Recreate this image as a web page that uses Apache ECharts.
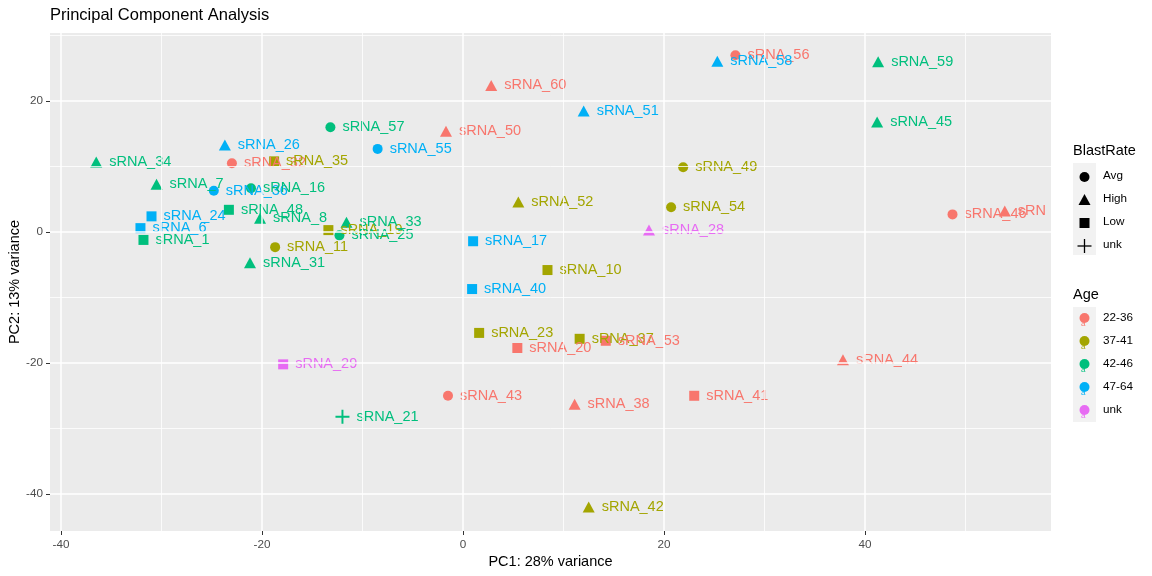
<!DOCTYPE html>
<html>
<head>
<meta charset="utf-8">
<script src="https://cdn.jsdelivr.net/npm/echarts@6/dist/echarts.min.js"></script>
<style>html,body{margin:0;padding:0;background:#fff}#c{width:1152px;height:576px}</style>
</head>
<body>
<div id="c"></div>
<script>
const sampleNames = ['sRNA_56','sRNA_58','sRNA_59','sRNA_60','sRNA_51','sRNA_45','sRNA_57','sRNA_50','sRNA_26','sRNA_55',
  'sRNA_32','sRNA_35','sRNA_34','sRNA_49','sRNA_7','sRNA_36','sRNA_16','sRNA_48','sRNA_8','sRNA_24',
  'sRNA_6','sRNA_1','sRNA_11','sRNA_31','sRNA_19','sRNA_33','sRNA_25','sRNA_52','sRNA_54','sRNA_17',
  'sRNA_28','sRNA_46','sRNA_47','sRNA_10','sRNA_40','sRNA_29','sRNA_21','sRNA_23','sRNA_20','sRNA_37',
  'sRNA_53','sRNA_43','sRNA_38','sRNA_41','sRNA_44','sRNA_42'];
const pc1 = [27.1,25.3,41.3,2.8,12.0,41.2,-13.2,-1.7,-23.7,-8.5,
  -23.0,-18.8,-36.5,21.9,-30.5,-24.8,-21.1,-23.3,-20.2,-31.0,
  -32.1,-31.8,-18.7,-21.2,-13.4,-11.6,-12.3,5.5,20.7,1.0,
  18.5,48.7,53.9,8.4,0.9,-17.9,-12.0,1.6,5.4,11.6,
  14.2,-1.5,11.1,23.0,37.8,12.5];
const pc2 = [27.0,26.1,26.0,22.4,18.5,16.8,16.0,15.4,13.3,12.7,
  10.5,10.8,10.7,9.9,7.3,6.3,6.7,3.4,2.1,2.4,
  0.6,-1.2,-2.3,-4.7,0.3,1.5,-0.5,4.6,3.8,-1.4,
  0.3,2.7,3.2,-5.8,-8.7,-20.2,-28.2,-15.4,-17.7,-16.3,
  -16.6,-25.0,-26.3,-25.0,-19.5,-42.0];
const blastRate = ['Avg','High','High','High','High','High','Avg','High','High','Avg',
  'Avg','Low','High','Avg','High','Avg','Avg','Low','High','Low',
  'Low','Low','Avg','High','Low','High','Avg','High','Avg','Low',
  'High','Avg','High','Low','Low','Low','unk','Low','Low','Low',
  'Low','Avg','High','Low','High','High'];
const age = ['22-36','47-64','42-46','22-36','47-64','42-46','42-46','22-36','47-64','47-64',
  '22-36','37-41','42-46','37-41','42-46','47-64','42-46','42-46','42-46','47-64',
  '47-64','42-46','37-41','42-46','37-41','42-46','42-46','37-41','37-41','47-64',
  'unk','22-36','22-36','37-41','47-64','unk','42-46','37-41','22-36','37-41',
  '22-36','22-36','22-36','22-36','22-36','37-41'];

const blastLevels = ['Avg','High','Low','unk'];
const ageLevels = ['22-36','37-41','42-46','47-64','unk'];
const majorTicksX = [-40,-20,0,20,40];
const minorTicksX = [-30,-10,10,30,50];
const majorTicksY = [-40,-20,0,20];
const minorTicksY = [-30,-10,10,30];

const ageColors = {'22-36':'#F8766D','37-41':'#A3A500','42-46':'#00BF7D','47-64':'#00B0F6','unk':'#E76BF3'};
const plusPath = 'path://M4.3,0H5.7V4.3H10V5.7H5.7V10H4.3V5.7H0V4.3H4.3Z';
const shapeSym = {'Avg':'circle','High':'triangle','Low':'rect','unk':plusPath};
const shapeSize = {'Avg':10,'High':[12,11],'Low':[10,10],'unk':14};

const FONT = 'Liberation Sans, Arial, sans-serif';
const X_MIN = -41.1, X_MAX = 58.5, Y_MIN = -45.65, Y_MAX = 30.4;

function buildData(widths) {
  return sampleNames.map((n, i) => {
    const col = ageColors[age[i]];
    const lbl = {color: col};
    if (widths && widths[i] != null) {
      lbl.width = widths[i]; lbl.overflow = 'truncate'; lbl.ellipsis = '';
    }
    return {
      name: n,
      value: [pc1[i], pc2[i]],
      symbol: shapeSym[blastRate[i]],
      symbolSize: shapeSize[blastRate[i]],
      itemStyle: {color: col, opacity: 1},
      label: lbl
    };
  });
}

const gridLineData = [];
minorTicksX.forEach(v => gridLineData.push({xAxis: v, lineStyle: {width: 0.8}}));
minorTicksY.forEach(v => gridLineData.push({yAxis: v, lineStyle: {width: 0.8}}));
majorTicksX.forEach(v => gridLineData.push({xAxis: v, lineStyle: {width: 1.5}}));
majorTicksY.forEach(v => gridLineData.push({yAxis: v, lineStyle: {width: 1.5}}));

// legend graphics
const graphics = [];
const LX = 1073;
graphics.push({type:'text', left: LX, top: 143, style:{text:'BlastRate', font:'14.5px '+FONT, fill:'#000'}});
graphics.push({type:'rect', shape:{x:LX, y:163, width:23, height:92}, style:{fill:'#F2F2F2'}});
blastLevels.forEach((b, k) => {
  const cy = 177 + k*23;
  let el;
  if (b === 'Avg') el = {type:'circle', shape:{cx:LX+11.5, cy:cy, r:5}, style:{fill:'#000'}};
  else if (b === 'High') el = {type:'polygon', shape:{points:[[LX+11.5,cy-6],[LX+5.5,cy+5],[LX+17.5,cy+5]]}, style:{fill:'#000'}};
  else if (b === 'Low') el = {type:'rect', shape:{x:LX+6.5, y:cy-5, width:10, height:10}, style:{fill:'#000'}};
  else el = {type:'group', children:[
      {type:'line', shape:{x1:LX+4.5,y1:cy,x2:LX+18.5,y2:cy}, style:{stroke:'#000', lineWidth:1.3}},
      {type:'line', shape:{x1:LX+11.5,y1:cy-7,x2:LX+11.5,y2:cy+7}, style:{stroke:'#000', lineWidth:1.3}}]};
  graphics.push(el);
  graphics.push({type:'text', left: 1103, top: cy-7, style:{text:b, font:'11.7px '+FONT, fill:'#000'}});
});
graphics.push({type:'text', left: LX, top: 287, style:{text:'Age', font:'14.5px '+FONT, fill:'#000'}});
graphics.push({type:'rect', shape:{x:LX, y:307, width:23, height:115}, style:{fill:'#F2F2F2'}});
ageLevels.forEach((a, k) => {
  const cy = 319 + k*23;
  graphics.push({type:'circle', shape:{cx:LX+11.5, cy:cy-1, r:5}, style:{fill:ageColors[a]}});
  graphics.push({type:'text', left: LX+8, top: cy+1, style:{text:'a', font:'8px '+FONT, fill:ageColors[a]}});
  graphics.push({type:'text', left: 1103, top: cy-7, style:{text:a, font:'11.7px '+FONT, fill:'#000'}});
});

const chart = echarts.init(document.getElementById('c'), null, {renderer:'canvas'});
const option = {
  animation: false,
  backgroundColor: '#FFFFFF',
  title: {text:'Principal Component Analysis', left: 45, top: 2,
    textStyle:{fontFamily: FONT, fontSize: 16.5, fontWeight:'normal', color:'#000'}},
  grid: {left: 50, right: 101, top: 33, bottom: 45, show: true, backgroundColor:'#EBEBEB', borderWidth: 0,
    containLabel: false, outerBoundsMode: 'none'},
  xAxis: {type:'value', min: X_MIN, max: X_MAX,
    name:'PC1: 28% variance', nameLocation:'middle', nameGap: 23, nameMoveOverlap: false,
    nameTextStyle:{fontFamily: FONT, fontSize: 14.5, color:'#000'},
    axisLine:{show:false, onZero:false},
    axisTick:{show:true, length:4, lineStyle:{color:'#333', width:1}, customValues: majorTicksX},
    axisLabel:{customValues: majorTicksX, fontFamily: FONT, fontSize: 11.7, color:'#4D4D4D', margin: 8},
    splitLine:{show:false}},
  yAxis: {type:'value', min: Y_MIN, max: Y_MAX,
    name:'PC2: 13% variance', nameLocation:'middle', nameGap: 28, nameRotate: 90, nameMoveOverlap: false,
    nameTextStyle:{fontFamily: FONT, fontSize: 14.5, color:'#000'},
    axisLine:{show:false, onZero:false},
    axisTick:{show:true, length:4, lineStyle:{color:'#333', width:1}, customValues: majorTicksY},
    axisLabel:{customValues: majorTicksY, fontFamily: FONT, fontSize: 11.7, color:'#4D4D4D', margin: 7},
    splitLine:{show:false}},
  graphic: graphics,
  series: [
    {type:'scatter', data: [], z: 1, silent: true,
      markLine: {silent: true, symbol:['none','none'], animation:false, label:{show:false},
        lineStyle:{color:'#FFFFFF', type:'solid'}, emphasis:{disabled:true}, data: gridLineData}},
    {type:'scatter', z: 3, data: buildData(null),
      itemStyle: {opacity: 1},
      label: {show: true, formatter: '{b}', position: 'right', distance: 7, offset: [0,-3],
        fontFamily: FONT, fontSize: 14.5, opacity: 1},
      labelLayout: {hideOverlap: false}}
  ]
};
chart.setOption(option);

// truncate labels that would run past the panel (ggplot clips at the panel edge)
const rightEdge = chart.convertToPixel({gridIndex:0}, [X_MAX, 0])[0];
const widths = sampleNames.map((n, i) => {
  const px = chart.convertToPixel({gridIndex:0}, [pc1[i], pc2[i]])[0];
  const avail = rightEdge - px - 13;
  return avail < 70 ? Math.max(0, avail) : null;
});
chart.setOption({series: [{}, {data: buildData(widths)}]});
</script>
</body>
</html>
